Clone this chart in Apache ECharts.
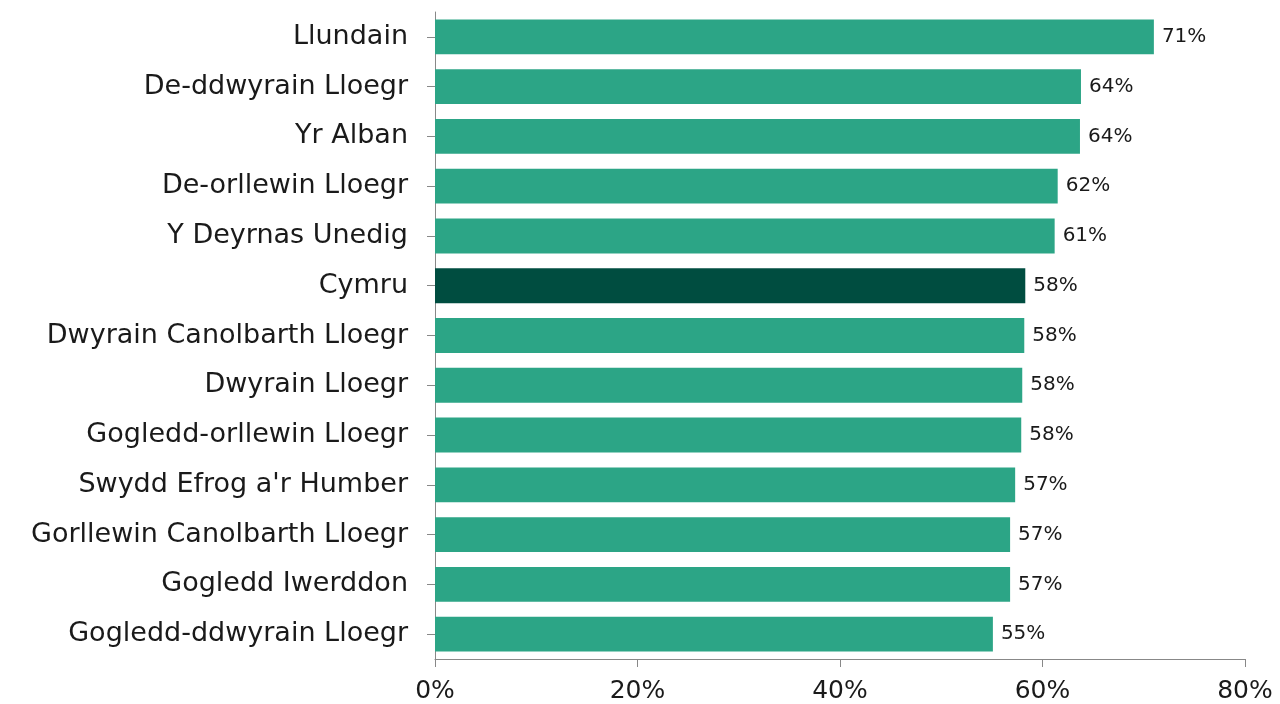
<!DOCTYPE html>
<html>
<head>
<meta charset="utf-8">
<script src="https://cdn.jsdelivr.net/npm/echarts@6/dist/echarts.min.js"></script>
<style>
  html, body { margin: 0; padding: 0; background: #fff; }
  #chart { width: 1280px; height: 704px; }
</style>
</head>
<body>
<div id="chart"></div>
<script>
// categories top to bottom
const regions = [
  'Llundain',
  'De-ddwyrain Lloegr',
  'Yr Alban',
  'De-orllewin Lloegr',
  'Y Deyrnas Unedig',
  'Cymru',
  'Dwyrain Canolbarth Lloegr',
  'Dwyrain Lloegr',
  'Gogledd-orllewin Lloegr',
  'Swydd Efrog a\'r Humber',
  'Gorllewin Canolbarth Lloegr',
  'Gogledd Iwerddon',
  'Gogledd-ddwyrain Lloegr'
];
const shares = [71.0, 63.8, 63.7, 61.5, 61.2, 58.3, 58.2, 58.0, 57.9, 57.3, 56.8, 56.8, 55.1];
const highlight = 'Cymru';
const xTicks = [0, 20, 40, 60, 80];

const green = '#2ca586';
const darkGreen = '#004d40';
const font = 'DejaVu Sans';

const chart = echarts.init(document.getElementById('chart'), null, { renderer: 'canvas' });

const option = {
  animation: false,
  grid: { left: 435, right: 35, top: 12, bottom: 44, containLabel: false },
  xAxis: {
    type: 'value',
    min: xTicks[0],
    max: xTicks[xTicks.length - 1],
    interval: 20,
    axisLine: { show: true, lineStyle: { color: '#888', width: 1 } },
    axisTick: { show: true, length: 8, lineStyle: { color: '#888' } },
    splitLine: { show: false },
    axisLabel: {
      formatter: v => v + '%',
      color: '#1a1a1a',
      fontFamily: font,
      fontSize: 25,
      margin: 20
    }
  },
  yAxis: {
    type: 'category',
    inverse: true,
    data: regions,
    axisLine: { show: true, lineStyle: { color: '#888', width: 1 } },
    axisTick: { show: true, alignWithLabel: true, length: 8, lineStyle: { color: '#888' } },
    axisLabel: {
      color: '#1a1a1a',
      fontFamily: font,
      fontSize: 27,
      margin: 27
    }
  },
  series: [{
    type: 'bar',
    barCategoryGap: '30%',
    data: shares.map((v, i) => ({
      value: v,
      itemStyle: { color: regions[i] === highlight ? darkGreen : green }
    })),
    label: {
      show: true,
      position: 'right',
      distance: 8,
      formatter: p => Math.round(p.value) + '%',
      color: '#1a1a1a',
      fontFamily: font,
      fontSize: 20
    }
  }]
};

chart.setOption(option);
</script>
</body>
</html>
